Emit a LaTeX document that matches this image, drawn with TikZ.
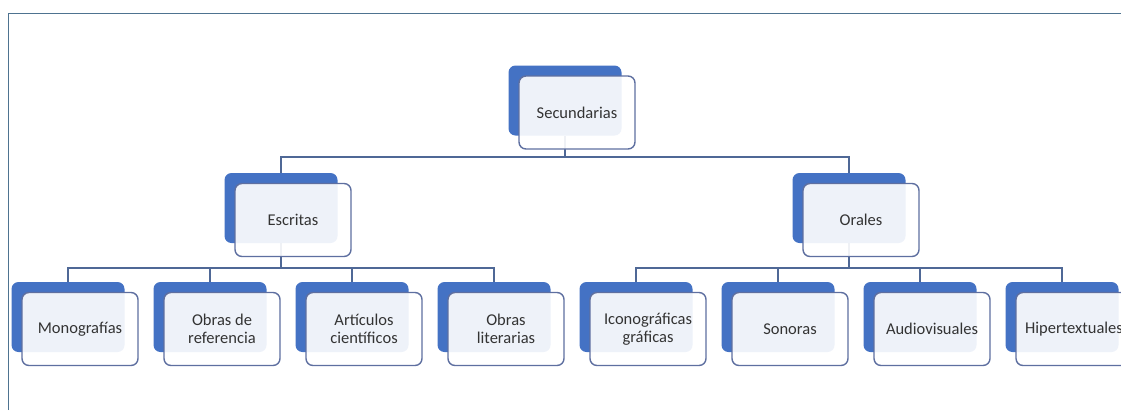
\documentclass[tikz,border=0pt]{standalone}
\usepackage{fontspec}
\setmainfont{Carlito}
\usetikzlibrary{backgrounds}
\definecolor{accent}{HTML}{4472C4}
\definecolor{fbord}{HTML}{5E6FA0}
\definecolor{conncol}{HTML}{4F6896}
\definecolor{txt}{HTML}{333333}
\definecolor{framecol}{HTML}{4E7390}
\tikzset{
  backbox/.style={fill=accent, rounded corners=7pt, minimum width=113pt, minimum height=70pt, inner sep=0pt, draw=none},
  frontbox/.style={draw=fbord, line width=1.4pt, fill=white, fill opacity=0.91, text opacity=1, rounded corners=7pt,
    minimum width=116pt, minimum height=73pt, inner sep=2pt, align=center, text=txt,
    font=\fontsize{16.5}{18}\selectfont},
  conn/.style={draw=conncol, line width=1.4pt},
  framestyle/.style={draw=framecol, line width=1.6pt}
}
\newcommand\boxpair[4]{%
  \node[backbox] (#1B) at (#2,#3) {};
  \node[frontbox] (#1) at ([shift={(12,12)}]#1B) {#4};
}
\begin{document}
\begin{tikzpicture}[x=1pt,y=-1pt]
\useasboundingbox (0,0) rectangle (1121,410);
\clip (0,0) rectangle (1121,410);

\boxpair{sec}{565}{100.5}{Secundarias}
\boxpair{esc}{281}{208}{Escritas}
\boxpair{ora}{849}{208}{Orales}
\boxpair{mon}{68}{317}{Monografías}
\boxpair{ref}{210}{317}{Obras de\\referencia}
\boxpair{art}{352}{317}{Artículos\\científicos}
\boxpair{lit}{494}{317}{Obras\\literarias}
\boxpair{ico}{636}{317}{Iconográficas\\gráficas}
\boxpair{son}{778}{317}{Sonoras}
\boxpair{aud}{920}{317}{Audiovisuales}
\boxpair{hip}{1062}{317}{Hipertextuales}

\coordinate (barA) at (0,157);
\coordinate (barB) at (0,268);

\begin{scope}[on background layer]
  \fill[white] (0,0) rectangle (1121,410);
  \draw[conn] (secB.south) -- (secB.south |- barA) -| (escB.north);
  \draw[conn] (secB.south |- barA) -| (oraB.north);
  \draw[conn] (escB.south) -- (escB.south |- barB) -| (monB.north);
  \draw[conn] (escB.south |- barB) -| (refB.north);
  \draw[conn] (escB.south |- barB) -| (artB.north);
  \draw[conn] (escB.south |- barB) -| (litB.north);
  \draw[conn] (oraB.south) -- (oraB.south |- barB) -| (icoB.north);
  \draw[conn] (oraB.south |- barB) -| (sonB.north);
  \draw[conn] (oraB.south |- barB) -| (audB.north);
  \draw[conn] (oraB.south |- barB) -| (hipB.north);
\end{scope}

\draw[framestyle] (8.5,410) -- (8.5,13.5) -- (1121,13.5);
\end{tikzpicture}
\end{document}
